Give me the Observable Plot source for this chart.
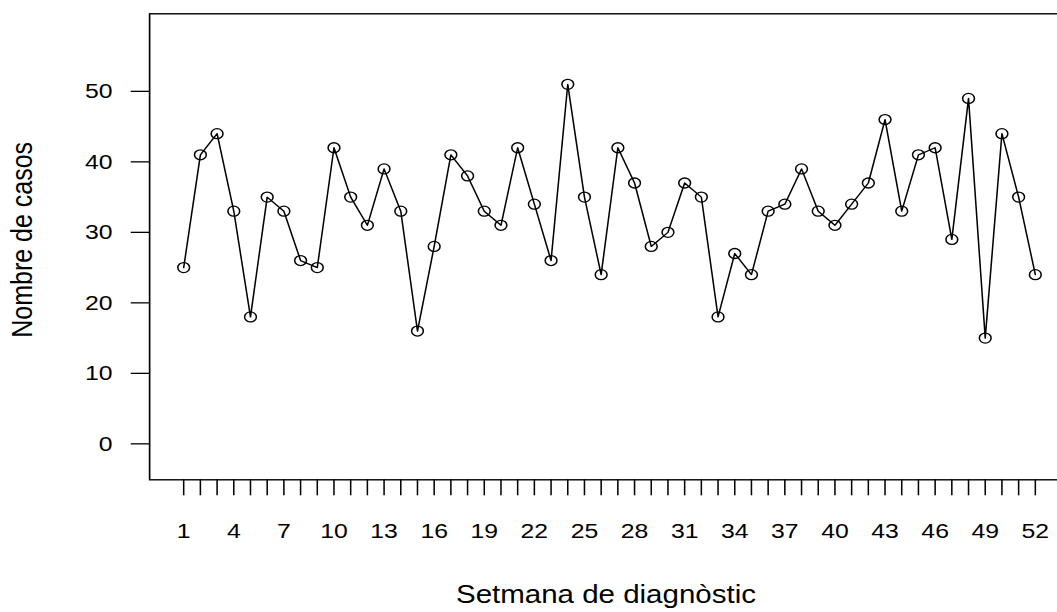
<!DOCTYPE html>
<html>
<head>
<meta charset="utf-8">
<script src="https://cdn.jsdelivr.net/npm/d3@7"></script>
<script src="https://cdn.jsdelivr.net/npm/@observablehq/plot@0.6"></script>
<style>
  html, body { margin: 0; padding: 0; background: #fff; overflow: hidden; }
  #chart svg { display: block; }
</style>
</head>
<body>
<div id="chart"></div>
<script>
// ---- data ----
const weeks = [1,2,3,4,5,6,7,8,9,10,11,12,13,14,15,16,17,18,19,20,21,22,23,24,25,26,
               27,28,29,30,31,32,33,34,35,36,37,38,39,40,41,42,43,44,45,46,47,48,49,50,51,52];
const cases = [25,41,44,33,18,35,33,26,25,42,35,31,39,33,16,28,41,38,33,31,42,34,26,51,35,24,
               42,37,28,30,37,35,18,27,24,33,34,39,33,31,34,37,46,33,41,42,29,49,15,44,35,24];
const yTicks = [0,10,20,30,40,50];
const xLabelWeeks = [1,4,7,10,13,16,19,22,25,28,31,34,37,40,43,46,49,52];
const xTitle = "Setmana de diagnòstic";
const yTitle = "Nombre de casos";

// the reference image is stretched horizontally
const STRETCH = 1.18;
const W = 1057 / STRETCH;
const H = 612;

const data = weeks.map((w, i) => ({week: w, cases: cases[i]}));
const font = "'Liberation Sans', Arial, Helvetica, sans-serif";

const plot = Plot.plot({
  width: W,
  height: H,
  marginLeft: 126.3,
  marginRight: -10,
  marginTop: 13.3,
  marginBottom: 132.7,
  style: {fontFamily: font, background: "#fff", color: "#000", overflow: "visible"},
  x: {domain: [-1.04, 54.04], axis: null},
  y: {domain: [-5.1, 61.0], axis: null},
  marks: [
    Plot.frame({stroke: "#000", strokeWidth: 1.4}),
    Plot.axisX({
      ticks: weeks,
      tickSize: 16,
      tickPadding: 27.7,
      tickFormat: d => xLabelWeeks.includes(d) ? String(d) : "",
      fontSize: 21,
      stroke: "#000",
      strokeWidth: 1.3,
      fill: "#000",
      label: null
    }),
    Plot.axisY({
      ticks: yTicks,
      tickSize: 15.5,
      tickPadding: 16,
      fontSize: 21,
      stroke: "#000",
      strokeWidth: 1.3,
      fill: "#000",
      label: null
    }),
    Plot.line(data, {x: "week", y: "cases", stroke: "#000", strokeWidth: 1.3}),
    Plot.dot(data, {x: "week", y: "cases", r: 5, stroke: "#000", fill: "none", strokeWidth: 1.3}),
    Plot.text([xTitle], {
      frameAnchor: "bottom", lineAnchor: "bottom", textAnchor: "middle", dy: 122.7, dx: -3,
      fontSize: 25, fill: "#000"
    }),
    Plot.text([yTitle], {
      frameAnchor: "left", textAnchor: "middle", lineAnchor: "middle", rotate: -90,
      dx: 19 - 126.3, dy: -7,
      fontSize: 25, fill: "#000"
    })
  ]
});

plot.setAttribute("preserveAspectRatio", "none");
plot.style.width = "1057px";
plot.style.height = "612px";
plot.style.maxWidth = "none";
document.getElementById("chart").appendChild(plot);
</script>
</body>
</html>
